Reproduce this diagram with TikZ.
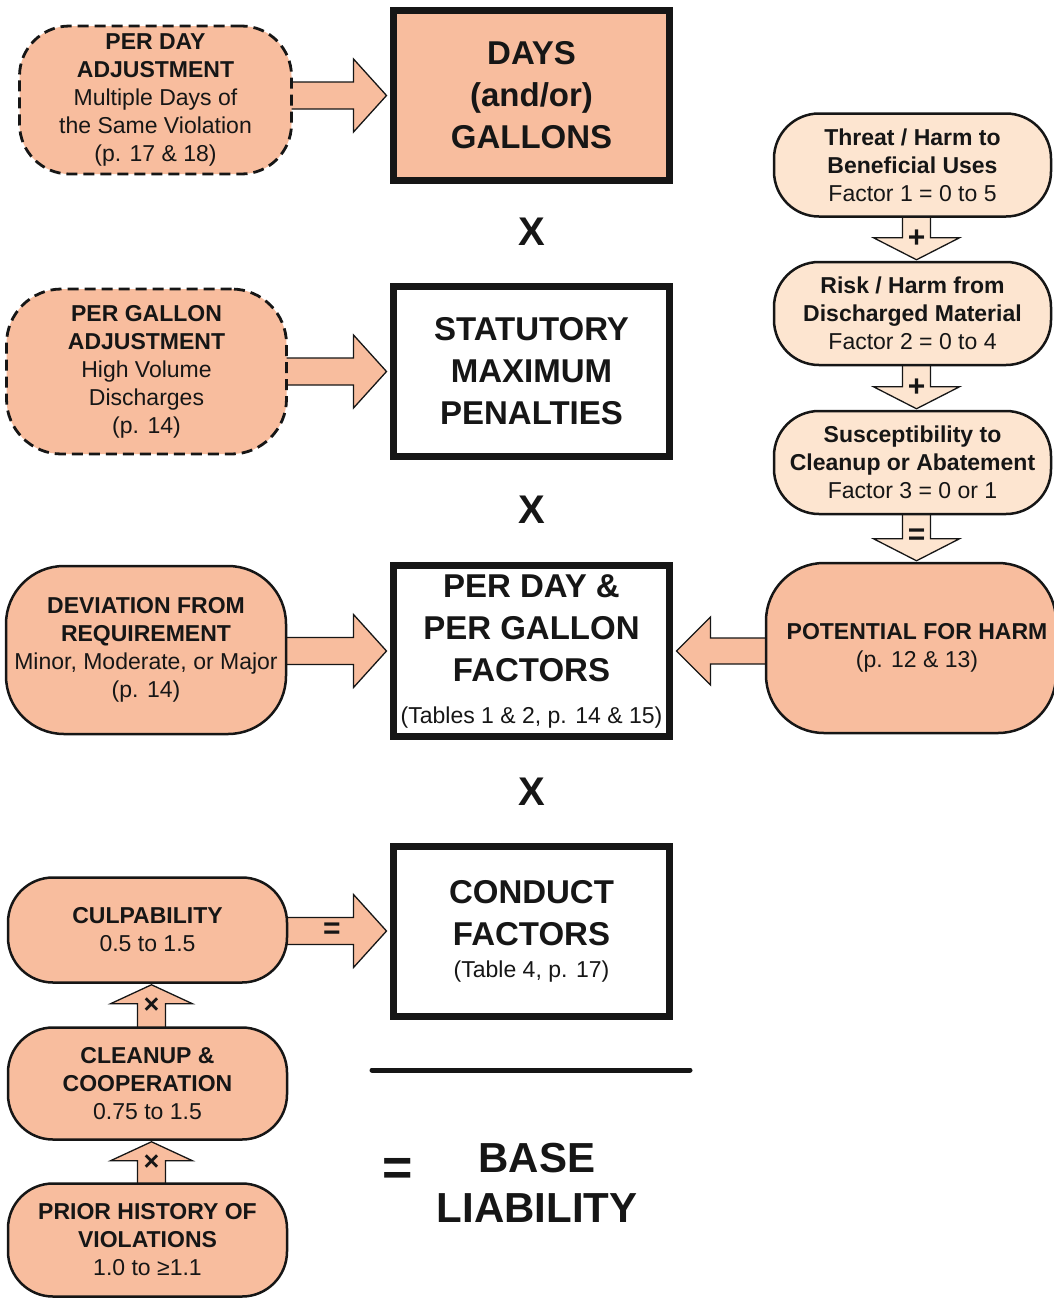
\documentclass[tikz,border=0pt]{standalone}
\usepackage{fontspec}
\setmainfont{Liberation Sans}
\usetikzlibrary{calc}
\pgfdeclarelayer{bg}
\pgfsetlayers{bg,main}
\definecolor{salmon}{RGB}{248,189,158}
\definecolor{peach}{RGB}{253,229,208}
\definecolor{ink}{RGB}{22,22,22}
\newcommand{\fsz}[2]{\fontsize{#1}{#2}\selectfont}
\begin{document}
\begin{tikzpicture}[x=1pt,y=-1pt,
  bigbox/.style={draw=ink,line width=7pt,minimum width=276pt,minimum height=170pt,inner sep=0pt,align=center,text=ink,font=\fsz{33}{42}\bfseries},
  rbox/.style={draw=ink,line width=2.5pt,fill=salmon,inner sep=0pt,align=center,text=ink,font=\fsz{23}{28}},
  dbox/.style={rbox,dash pattern=on 11pt off 6pt,line width=2.8pt},
  lbox/.style={rbox,fill=peach,minimum width=277pt,minimum height=103pt,rounded corners=45pt},
  blk/.style={draw=ink,line width=1.3pt,fill=salmon,line join=miter},
  lblk/.style={blk,fill=peach},
  opsym/.style={text=ink,font=\fsz{40}{40}\bfseries,inner sep=0pt},
  arrsym/.style={text=ink,font=\fsz{30}{30}\bfseries,inner sep=0pt},
]
\useasboundingbox (0,0) rectangle (1053,1299);

% central column
\node[bigbox,fill=salmon] (days) at (531.5,95.5) {DAYS\\(and/or)\\GALLONS};
\node[bigbox,fill=white] (stat) at (531.5,371.5) {STATUTORY\\MAXIMUM\\PENALTIES};
\node[bigbox,fill=white,minimum height=171pt] (pdpg) at (531.5,651) {PER DAY \&\\PER GALLON\\FACTORS\\{\fsz{23}{28}\mdseries (Tables 1 \& 2, p. 14 \& 15)}};
\node[bigbox,fill=white] (cond) at (531.5,931) {CONDUCT\\FACTORS\\[-10pt]{\fsz{23}{28}\mdseries (Table 4, p. 17)}};

\node[opsym] (x1) at (532,232) {X};
\node[opsym] (x2) at (532,510) {X};
\node[opsym] (x3) at (532,792) {X};

\coordinate (la) at (372,1070);
\coordinate (lb) at (690,1070);
\draw[line width=5pt,line cap=round,ink] (la) -- (lb);
\node[text=ink,font=\fsz{52}{52}\bfseries,inner sep=0pt] (eq) at (398,1172) {=};
\node[text=ink,font=\fsz{42}{50}\bfseries,inner sep=0pt,align=center] (base) at (537,1183) {BASE\\LIABILITY};

% left column
\node[dbox,minimum width=272pt,minimum height=148pt,rounded corners=50pt] (pda) at (155.5,100) {\textbf{PER DAY}\\\textbf{ADJUSTMENT}\\Multiple Days of\\the Same Violation\\(p. 17 \& 18)};
\node[dbox,minimum width=280pt,minimum height=165pt,rounded corners=55pt] (pga) at (146.5,371.5) {\textbf{PER GALLON}\\\textbf{ADJUSTMENT}\\High Volume\\Discharges\\(p. 14)};
\node[rbox,minimum width=280pt,minimum height=168pt,rounded corners=58pt] (dev) at (146,650) {\textbf{DEVIATION FROM}\\\textbf{REQUIREMENT}\\Minor, Moderate, or Major\\(p. 14)};
\node[rbox,minimum width=279pt,minimum height=105pt,rounded corners=45pt] (culp) at (147.5,930) {\textbf{CULPABILITY}\\0.5 to 1.5};
\node[rbox,minimum width=279pt,minimum height=112pt,rounded corners=45pt] (clean) at (147.5,1083.5) {\textbf{CLEANUP \&}\\\textbf{COOPERATION}\\0.75 to 1.5};
\node[rbox,minimum width=279pt,minimum height=113pt,rounded corners=45pt] (prior) at (147.5,1240) {\textbf{PRIOR HISTORY OF}\\\textbf{VIOLATIONS}\\1.0 to ≥1.1};

% right column
\node[lbox] (threat) at (912.5,165) {\textbf{Threat / Harm to}\\\textbf{Beneficial Uses}\\Factor 1 = 0 to 5};
\node[lbox] (risk) at (912.5,313.5) {\textbf{Risk / Harm from}\\\textbf{Discharged Material}\\Factor 2 = 0 to 4};
\node[lbox] (susc) at (912.5,462.5) {\textbf{Susceptibility to}\\\textbf{Cleanup or Abatement}\\Factor 3 = 0 or 1};
\node[rbox,minimum width=290pt,minimum height=170pt,rounded corners=58pt] (pot) at (911,648) {\hspace*{12pt}\textbf{POTENTIAL FOR HARM}\\\hspace*{12pt}(p. 12 \& 13)};

% block arrows
\begin{pgfonlayer}{bg}
\foreach \a/\b in {pda/days,pga/stat,dev/pdpg,culp/cond}{
  \draw[blk] ($(\a.east|-\b.west)+(-6,-13.5)$) -- ($(\b.west)+(-36.5,-13.5)$) -- ($(\b.west)+(-36.5,-36.5)$) -- ($(\b.west)+(-3.5,0)$) -- ($(\b.west)+(-36.5,36.5)$) -- ($(\b.west)+(-36.5,13.5)$) -- ($(\a.east|-\b.west)+(-6,13.5)$) -- cycle;
}
\draw[blk] ($(pot.west|-pdpg.east)+(6,-13)$) -- ($(pdpg.east)+(37.5,-13)$) -- ($(pdpg.east)+(37.5,-34)$) -- ($(pdpg.east)+(3.5,0)$) -- ($(pdpg.east)+(37.5,34)$) -- ($(pdpg.east)+(37.5,13)$) -- ($(pot.west|-pdpg.east)+(6,13)$) -- cycle;
\foreach \a/\b in {threat/risk,risk/susc,susc/pot}{
  \draw[lblk] ($(\a.south)+(-10,-6)$) -- ($(\a.south|-\b.north)+(-10,-23)$) -- ($(\a.south|-\b.north)+(-39,-23)$) -- ($(\a.south|-\b.north)+(4,-1)$) -- ($(\a.south|-\b.north)+(47,-23)$) -- ($(\a.south|-\b.north)+(18,-23)$) -- ($(\a.south)+(18,-6)$) -- cycle;
}
\foreach \a/\b in {clean/culp,prior/clean}{
  \draw[blk] ($(\a.north)+(-10,6)$) -- ($(\b.south)+(-10,20)$) -- ($(\b.south)+(-37,20)$) -- ($(\b.south)+(4,1)$) -- ($(\b.south)+(45,20)$) -- ($(\b.south)+(18,20)$) -- ($(\a.north)+(18,6)$) -- cycle;
}
\end{pgfonlayer}

% arrow labels
\node[arrsym] (p1) at ($(risk.north)+(4,-22)$) {+};
\node[arrsym] (p2) at ($(susc.north)+(4,-22)$) {+};
\node[arrsym] (e1) at ($(pot.north)+(5.5,-25)$) {=};
\node[arrsym] (e2) at ($(cond.west)+(-58,0)$) {=};
\node[arrsym,font=\fsz{27}{27}\bfseries] (t1) at ($(culp.south)+(4,22)$) {×};
\node[arrsym,font=\fsz{27}{27}\bfseries] (t2) at ($(clean.south)+(4,22)$) {×};
\end{tikzpicture}
\end{document}
